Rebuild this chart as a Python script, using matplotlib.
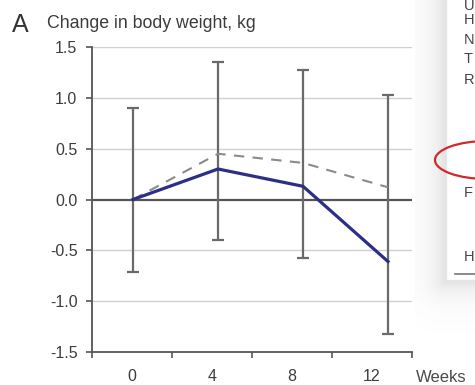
import numpy as np
import matplotlib.pyplot as plt
from matplotlib.patches import Rectangle, Ellipse
from matplotlib.lines import Line2D

plt.rcParams['font.family'] = ['Liberation Sans', 'DejaVu Sans']

# change in body weight by week
weeks = [0, 4, 8, 12]
week_labels = ['0', '4', '8', '12']
weight_solid = [0.0, 0.30, 0.13, -0.61]
weight_dashed = [0.0, 0.45, 0.36, 0.12]
sd_upper = [0.90, 0.90, 0.91, 0.91]   # bar above the dashed series
sd_lower = [0.71, 0.70, 0.71, 0.71]   # bar below the solid series
yticks = [-1.5, -1.0, -0.5, 0.0, 0.5, 1.0, 1.5]

W, H = 475, 385
fig = plt.figure(figsize=(W / 100, H / 100), dpi=100)
fig.patch.set_facecolor('white')


def px(x, y):
    # pixel position (from top-left) -> figure fraction
    return x / W, 1 - y / H


ax = fig.add_axes([92 / W, 33 / H, 320 / W, 305 / H])
ax.set_xlim(-1.93, 13.13)
ax.set_ylim(-1.5, 1.5)

grey = '#555555'
for y in yticks:
    if y == 0.0:
        ax.axhline(y, color=grey, lw=1.6, zorder=1)
    elif y > -1.5:
        ax.axhline(y, color='#d0d0d0', lw=1.0, zorder=0)

top = np.array(weight_dashed) + np.array(sd_upper)
bottom = np.array(weight_solid) - np.array(sd_lower)
ax.vlines(weeks, bottom, top, color='#6a6a6a', lw=1.6, zorder=2)
ax.plot(weeks, top, ls='none', marker='_', ms=9, mew=1.6, color='#6a6a6a', zorder=2)
ax.plot(weeks, bottom, ls='none', marker='_', ms=9, mew=1.6, color='#6a6a6a', zorder=2)

ax.plot(weeks, weight_dashed, color='#8a8a8a', lw=1.5, ls=(0, (5, 4)), zorder=3)
ax.plot(weeks, weight_solid, color='#2e2e86', lw=2.3, zorder=4, solid_joinstyle='round')

for s in ['top', 'right']:
    ax.spines[s].set_visible(False)
for s in ['left', 'bottom']:
    ax.spines[s].set_color(grey)
    ax.spines[s].set_linewidth(1.3)

ax.set_yticks(yticks)
ax.set_yticklabels(['%.1f' % v for v in yticks])
xt = np.linspace(-1.93, 13.13, 5)
ax.set_xticks(xt)
ax.set_xticklabels([])
ax.set_xticks((xt[:-1] + xt[1:]) / 2, minor=True)
ax.set_xticklabels(week_labels, minor=True)
ax.tick_params(axis='y', direction='out', length=4.5, width=1.2, color=grey,
               labelsize=11.5, labelcolor='#3c3c3c', pad=6)
ax.tick_params(axis='x', which='major', direction='out', length=4, width=1.2, color=grey)
ax.tick_params(axis='x', which='minor', length=0, labelsize=11.5,
               labelcolor='#3c3c3c', pad=12)

fig.text(*px(12, 25), 'A', fontsize=18, color='#333333', va='center', ha='left')
fig.text(*px(47, 24), 'Change in body weight, kg', fontsize=12.8, color='#3c3c3c',
         va='center', ha='left')
fig.text(*px(416, 377), 'Weeks', fontsize=12, color='#4a4a4a', va='center', ha='left')

# neighbouring panel at the right edge, with its soft drop shadow
sh = fig.add_axes([415 / W, 1 - 335 / H, 60 / W, 335 / H], zorder=5)
gx = np.arange(415, 475) + 0.5
gy = np.arange(0, 335) + 0.5
XX, YY = np.meshgrid(gx, gy)
dx = np.clip(444 - XX, 0, None)
dy = np.clip(YY - 282, 0, None)
d = np.hypot(dx, dy)
alpha = 0.16 * np.exp(-d / 14.0)
rgba = np.zeros(XX.shape + (4,))
rgba[..., :3] = 0.35
rgba[..., 3] = alpha
sh.imshow(rgba, extent=[415, 475, 335, 0], aspect='auto', interpolation='bilinear')
sh.set_xlim(415, 475)
sh.set_ylim(335, 0)
sh.axis('off')

fig.add_artist(Rectangle(px(446, 280), 40 / W, 290 / H, transform=fig.transFigure,
                         facecolor='white', edgecolor='#e6e6e6', lw=1, zorder=6))
for y, ch in [(6, 'U'), (20, 'H'), (40, 'N'), (59, 'T'), (80, 'R'), (193, 'F'), (257, 'H')]:
    fig.text(*px(464, y), ch, fontsize=10.5, color='#444444', va='center', ha='left', zorder=7)
fig.add_artist(Line2D([455 / W, 1], [1 - 274 / H] * 2, transform=fig.transFigure,
                      color='#777777', lw=1.2, zorder=7))
fig.add_artist(Ellipse(px(487, 160), 104 / W, 38 / H, transform=fig.transFigure,
                       facecolor='none', edgecolor='#cc2b2b', lw=1.6, zorder=7))

fig.savefig('out.png', dpi=100)
